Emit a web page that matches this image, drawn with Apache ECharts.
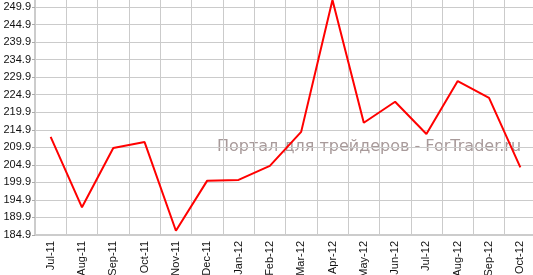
<!DOCTYPE html>
<html><head><meta charset="utf-8">
<script src="https://cdn.jsdelivr.net/npm/echarts@6/dist/echarts.min.js"></script>
<style>html,body{margin:0;padding:0;background:#fff}#c{width:533px;height:275px}</style>
</head><body><div id="c"></div>
<script>
var categories = ['Jul-11','Aug-11','Sep-11','Oct-11','Nov-11','Dec-11','Jan-12','Feb-12','Mar-12','Apr-12','May-12','Jun-12','Jul-12','Aug-12','Sep-12','Oct-12'];
var values = [212.9,192.8,209.7,211.4,186.1,200.4,200.6,204.6,214.3,251.9,216.9,222.9,213.7,228.8,224.0,204.2];
var yMin = 184.9, yMax = 251.9, yStep = 5;
var watermark = 'Портал для трейдеров - ForTrader.ru';

var gridColors = [];
for (var i = 0; i < 14; i++) gridColors.push('#cbcbcb');
gridColors.push('rgba(0,0,0,0)');

var chart = echarts.init(document.getElementById('c'));
chart.setOption({
  animation: false,
  grid: {left: 35, right: -3, top: 0, bottom: 40, outerBoundsMode: 'none', containLabel: false},
  graphic: [{
    type: 'text', left: 217, top: 139, z: 0, silent: true,
    style: {text: watermark, font: '16px "DejaVu Sans", sans-serif', fill: '#a89a9a'}
  }],
  xAxis: {
    type: 'category', data: categories, boundaryGap: true,
    axisLine: {lineStyle: {color: '#cccccc', width: 2}},
    axisTick: {alignWithLabel: true, length: 4, lineStyle: {color: '#aaaaaa'}},
    axisLabel: {rotate: 90, color: '#111', fontSize: 11, fontFamily: '"Liberation Sans", Arial, sans-serif', margin: 6, interval: 0},
    splitLine: {show: true, interval: 0, lineStyle: {color: '#cbcbcb'}}
  },
  yAxis: {
    type: 'value', min: yMin, max: yMax, interval: yStep,
    axisLine: {show: true, lineStyle: {color: '#cccccc', width: 2}},
    axisTick: {show: true, length: 3, lineStyle: {color: '#aaaaaa'}},
    axisLabel: {showMaxLabel: false, color: '#111', fontSize: 11, fontFamily: '"Liberation Sans", Arial, sans-serif', margin: 4,
      formatter: function (v) { return v.toFixed(1); }},
    splitLine: {show: true, lineStyle: {color: gridColors}}
  },
  series: [{
    type: 'line', data: values, symbol: 'none', clip: false, z: 5,
    lineStyle: {color: '#ff0000', width: 2}
  }]
});
</script></body></html>
